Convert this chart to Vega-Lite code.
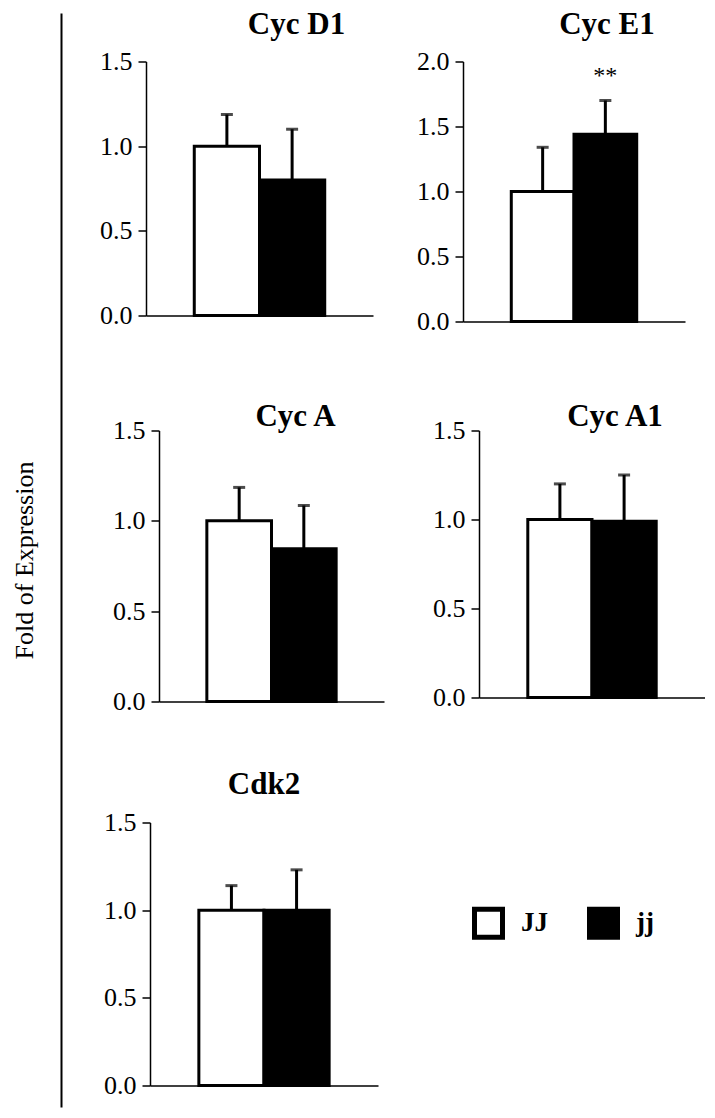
{
  "$schema": "https://vega.github.io/schema/vega-lite/v6.json",
  "padding": {"left": 11, "top": 8, "right": 0, "bottom": 0},
  "config": {
    "view": {"stroke": null},
    "font": "Liberation Serif",
    "axis": {"domainColor": "black", "tickColor": "black", "labelColor": "black", "titleColor": "black", "grid": false},
    "title": {"font": "Liberation Serif", "fontSize": 31, "fontWeight": "bold", "color": "black", "anchor": "middle", "frame": "group", "baseline": "alphabetic"}
  },
  "data": {"values": [
    {"panel": "Cyc D1", "group": "JJ", "mean": 1.0, "upper": 1.187, "sig": ""},
    {"panel": "Cyc D1", "group": "jj", "mean": 0.80, "upper": 1.10, "sig": ""},
    {"panel": "Cyc E1", "group": "JJ", "mean": 1.0, "upper": 1.34, "sig": ""},
    {"panel": "Cyc E1", "group": "jj", "mean": 1.44, "upper": 1.70, "sig": "**"},
    {"panel": "Cyc A", "group": "JJ", "mean": 1.0, "upper": 1.185, "sig": ""},
    {"panel": "Cyc A", "group": "jj", "mean": 0.845, "upper": 1.085, "sig": ""},
    {"panel": "Cyc A1", "group": "JJ", "mean": 1.0, "upper": 1.20, "sig": ""},
    {"panel": "Cyc A1", "group": "jj", "mean": 0.99, "upper": 1.25, "sig": ""},
    {"panel": "Cdk2", "group": "JJ", "mean": 1.0, "upper": 1.14, "sig": ""},
    {"panel": "Cdk2", "group": "jj", "mean": 1.0, "upper": 1.23, "sig": ""}
  ]},
  "resolve": {"scale": {"fill": "independent"}, "legend": {"fill": "independent"}},
  "center": true,
  "spacing": 10,
  "hconcat": [
    {
      "width": 1,
      "height": 1094,
      "data": {"values": [{"v": 0}]},
      "mark": {"type": "point", "opacity": 0, "size": 0},
      "encoding": {
        "x": {"field": "v", "type": "quantitative", "scale": {"domain": [0, 1]},
              "axis": {"orient": "bottom", "domain": false, "ticks": false, "labels": false, "title": " ", "titleFontSize": 40, "titlePadding": 0}},
        "y": {"field": "v", "type": "quantitative", "scale": {"domain": [0, 1]},
              "axis": {"labels": false, "ticks": false, "domainWidth": 2, "minExtent": 0, "title": "Fold of Expression", "titleFont": "Liberation Serif", "titleFontSize": 26, "titleFontWeight": "normal", "titleBaseline": "alphabetic", "titlePadding": 29}}
      }
    },
    {
      "resolve": {"scale": {"fill": "independent"}, "legend": {"fill": "independent"}},
      "spacing": 54,
      "vconcat": [
        {
          "resolve": {"scale": {"fill": "independent"}, "legend": {"fill": "independent"}},
          "spacing": 26,
          "hconcat": [
            {"width": 1, "height": 285, "data": {"values": [{"v": 0}]}, "mark": {"type": "point", "opacity": 0, "size": 0}, "encoding": {}},
            {
              "width": 227, "height": 254,
              "title": {"text": "Cyc D1", "dx": 37, "offset": 8},
              "transform": [{"filter": "datum.panel === 'Cyc D1'"}],
              "encoding": {"x": {"field": "group", "type": "nominal", "sort": ["JJ", "jj"], "scale": {"paddingInner": 0, "paddingOuter": 0.74}, "axis": {"labels": false, "ticks": false, "title": null, "domainWidth": 1.5}}},
              "layer": [
                {"mark": {"type": "rule", "strokeWidth": 3, "color": "black"}, "encoding": {"y": {"field": "mean", "type": "quantitative", "scale": {"domain": [0, 1.5], "nice": false}}, "y2": {"field": "upper"}}},
                {"mark": {"type": "tick", "thickness": 3, "size": 12, "color": "black"}, "encoding": {"y": {"field": "upper", "type": "quantitative", "scale": {"domain": [0, 1.5], "nice": false}}}},
                {"mark": {"type": "bar", "stroke": "black", "strokeWidth": 3},
                 "encoding": {
                   "y": {"field": "mean", "type": "quantitative", "scale": {"domain": [0, 1.5], "nice": false},
                         "axis": {"values": [0, 0.5, 1, 1.5], "format": ".1f", "title": null, "labelFontSize": 26, "tickSize": 8, "tickWidth": 1.5, "domainWidth": 1.5, "labelPadding": 6, "minExtent": 47}},
                   "fill": {"field": "group", "type": "nominal", "scale": {"domain": ["JJ", "jj"], "range": ["white", "black"]}, "legend": null}
                 }}
              ]
            },
            {
              "width": 222, "height": 260,
              "title": {"text": "Cyc E1", "dx": 33, "offset": 8},
              "transform": [{"filter": "datum.panel === 'Cyc E1'"}],
              "encoding": {"x": {"field": "group", "type": "nominal", "sort": ["JJ", "jj"], "scale": {"paddingInner": 0, "paddingOuter": 0.77}, "axis": {"labels": false, "ticks": false, "title": null, "domainWidth": 1.5}}},
              "layer": [
                {"mark": {"type": "rule", "strokeWidth": 3, "color": "black"}, "encoding": {"y": {"field": "mean", "type": "quantitative", "scale": {"domain": [0, 2], "nice": false}}, "y2": {"field": "upper"}}},
                {"mark": {"type": "tick", "thickness": 3, "size": 12, "color": "black"}, "encoding": {"y": {"field": "upper", "type": "quantitative", "scale": {"domain": [0, 2], "nice": false}}}},
                {"mark": {"type": "bar", "stroke": "black", "strokeWidth": 3},
                 "encoding": {
                   "y": {"field": "mean", "type": "quantitative", "scale": {"domain": [0, 2], "nice": false},
                         "axis": {"values": [0, 0.5, 1, 1.5, 2], "format": ".1f", "title": null, "labelFontSize": 26, "tickSize": 8, "tickWidth": 1.5, "domainWidth": 1.5, "labelPadding": 6, "minExtent": 64}},
                   "fill": {"field": "group", "type": "nominal", "scale": {"domain": ["JJ", "jj"], "range": ["white", "black"]}, "legend": null}
                 }},
                {"mark": {"type": "text", "fontSize": 24, "dy": -18, "baseline": "alphabetic", "color": "black"},
                 "encoding": {"y": {"field": "upper", "type": "quantitative", "scale": {"domain": [0, 2], "nice": false}}, "text": {"field": "sig"}}}
              ]
            }
          ]
        },
        {
          "resolve": {"scale": {"fill": "independent"}, "legend": {"fill": "independent"}},
          "spacing": 39,
          "hconcat": [
            {"width": 1, "height": 1, "data": {"values": [{"v": 0}]}, "mark": {"type": "point", "opacity": 0, "size": 0}, "encoding": {}},
            {
              "width": 225, "height": 271,
              "title": {"text": "Cyc A", "dx": 24, "offset": -15},
              "transform": [{"filter": "datum.panel === 'Cyc A'"}],
              "encoding": {"x": {"field": "group", "type": "nominal", "sort": ["JJ", "jj"], "scale": {"paddingInner": 0, "paddingOuter": 0.74}, "axis": {"labels": false, "ticks": false, "title": null, "domainWidth": 1.5}}},
              "layer": [
                {"mark": {"type": "rule", "strokeWidth": 3, "color": "black"}, "encoding": {"y": {"field": "mean", "type": "quantitative", "scale": {"domain": [0, 1.5], "nice": false}}, "y2": {"field": "upper"}}},
                {"mark": {"type": "tick", "thickness": 3, "size": 12, "color": "black"}, "encoding": {"y": {"field": "upper", "type": "quantitative", "scale": {"domain": [0, 1.5], "nice": false}}}},
                {"mark": {"type": "bar", "stroke": "black", "strokeWidth": 3},
                 "encoding": {
                   "y": {"field": "mean", "type": "quantitative", "scale": {"domain": [0, 1.5], "nice": false},
                         "axis": {"values": [0, 0.5, 1, 1.5], "format": ".1f", "title": null, "labelFontSize": 26, "tickSize": 8, "tickWidth": 1.5, "domainWidth": 1.5, "labelPadding": 6, "minExtent": 47}},
                   "fill": {"field": "group", "type": "nominal", "scale": {"domain": ["JJ", "jj"], "range": ["white", "black"]}, "legend": null}
                 }}
              ]
            },
            {
              "width": 226, "height": 267,
              "title": {"text": "Cyc A1", "dx": 23, "offset": -15},
              "transform": [{"filter": "datum.panel === 'Cyc A1'"}],
              "encoding": {"x": {"field": "group", "type": "nominal", "sort": ["JJ", "jj"], "scale": {"paddingInner": 0, "paddingOuter": 0.76}, "axis": {"labels": false, "ticks": false, "title": null, "domainWidth": 1.5}}},
              "layer": [
                {"mark": {"type": "rule", "strokeWidth": 3, "color": "black"}, "encoding": {"y": {"field": "mean", "type": "quantitative", "scale": {"domain": [0, 1.5], "nice": false}}, "y2": {"field": "upper"}}},
                {"mark": {"type": "tick", "thickness": 3, "size": 12, "color": "black"}, "encoding": {"y": {"field": "upper", "type": "quantitative", "scale": {"domain": [0, 1.5], "nice": false}}}},
                {"mark": {"type": "bar", "stroke": "black", "strokeWidth": 3},
                 "encoding": {
                   "y": {"field": "mean", "type": "quantitative", "scale": {"domain": [0, 1.5], "nice": false},
                         "axis": {"values": [0, 0.5, 1, 1.5], "format": ".1f", "title": null, "labelFontSize": 26, "tickSize": 8, "tickWidth": 1.5, "domainWidth": 1.5, "labelPadding": 6, "minExtent": 56}},
                   "fill": {"field": "group", "type": "nominal", "scale": {"domain": ["JJ", "jj"], "range": ["white", "black"]}, "legend": null}
                 }}
              ]
            }
          ]
        },
        {
          "resolve": {"scale": {"fill": "independent"}, "legend": {"fill": "independent"}},
          "spacing": 30,
          "hconcat": [
            {"width": 1, "height": 1, "data": {"values": [{"v": 0}]}, "mark": {"type": "point", "opacity": 0, "size": 0}, "encoding": {}},
            {
              "width": 228, "height": 263,
              "title": {"text": "Cdk2", "dx": 0, "offset": 9},
              "transform": [{"filter": "datum.panel === 'Cdk2'"}],
              "encoding": {"x": {"field": "group", "type": "nominal", "sort": ["JJ", "jj"], "scale": {"paddingInner": 0, "paddingOuter": 0.75}, "axis": {"labels": false, "ticks": false, "title": null, "domainWidth": 1.5}}},
              "layer": [
                {"mark": {"type": "rule", "strokeWidth": 3, "color": "black"}, "encoding": {"y": {"field": "mean", "type": "quantitative", "scale": {"domain": [0, 1.5], "nice": false}}, "y2": {"field": "upper"}}},
                {"mark": {"type": "tick", "thickness": 3, "size": 12, "color": "black"}, "encoding": {"y": {"field": "upper", "type": "quantitative", "scale": {"domain": [0, 1.5], "nice": false}}}},
                {"mark": {"type": "bar", "stroke": "black", "strokeWidth": 3},
                 "encoding": {
                   "y": {"field": "mean", "type": "quantitative", "scale": {"domain": [0, 1.5], "nice": false},
                         "axis": {"values": [0, 0.5, 1, 1.5], "format": ".1f", "title": null, "labelFontSize": 26, "tickSize": 8, "tickWidth": 1.5, "domainWidth": 1.5, "labelPadding": 6, "minExtent": 47}},
                   "fill": {"field": "group", "type": "nominal", "scale": {"domain": ["JJ", "jj"], "range": ["white", "black"]},
                            "legend": {"orient": "none", "legendX": 322, "legendY": 84, "direction": "horizontal", "title": null, "symbolType": "square", "symbolSize": 784, "symbolStrokeWidth": 5, "symbolStrokeColor": "black", "symbolOpacity": 1, "labelFontSize": 27, "labelFontWeight": "bold", "labelFont": "Liberation Serif", "labelColor": "black", "labelOffset": 16, "columnPadding": 31}}
                 }}
              ]
            }
          ]
        }
      ]
    }
  ]
}
